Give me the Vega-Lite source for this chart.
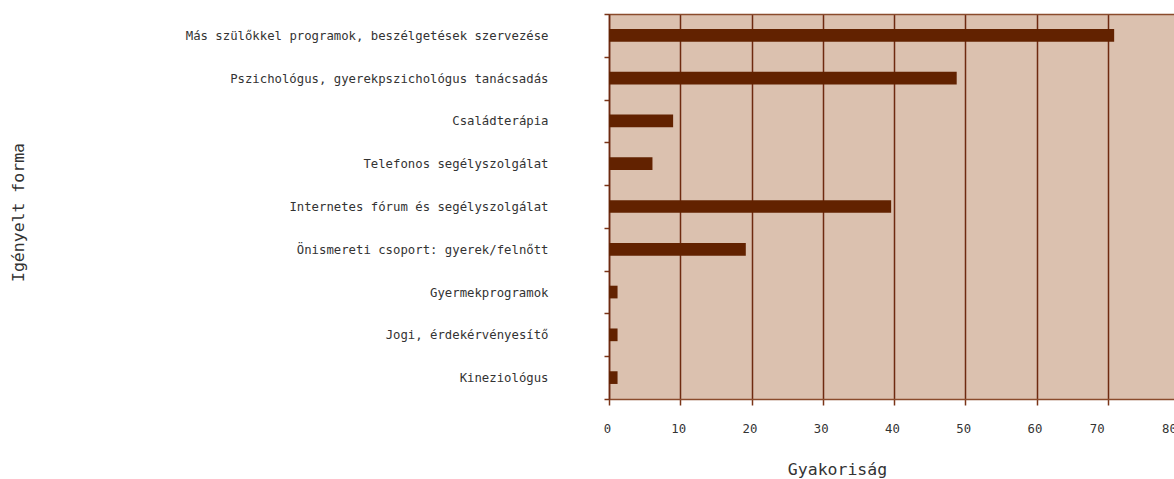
{
  "$schema": "https://vega.github.io/schema/vega-lite/v6.json",
  "autosize": "none",
  "width": 565,
  "height": 385,
  "padding": {"left": 609, "top": 14, "right": 0, "bottom": 80},
  "background": "white",
  "view": {"fill": "#dbc1af", "stroke": null},
  "data": {
    "values": [
      {"forma": "Más szülőkkel programok, beszélgetések szervezése", "gyakorisag": 70.9},
      {"forma": "Pszichológus, gyerekpszichológus tanácsadás", "gyakorisag": 48.8},
      {"forma": "Családterápia", "gyakorisag": 9.0},
      {"forma": "Telefonos segélyszolgálat", "gyakorisag": 6.1},
      {"forma": "Internetes fórum és segélyszolgálat", "gyakorisag": 39.6},
      {"forma": "Önismereti csoport: gyerek/felnőtt", "gyakorisag": 19.2},
      {"forma": "Gyermekprogramok", "gyakorisag": 1.2},
      {"forma": "Jogi, érdekérvényesítő", "gyakorisag": 1.2},
      {"forma": "Kineziológus", "gyakorisag": 1.2}
    ]
  },
  "encoding": {
    "y": {
      "field": "forma",
      "type": "nominal",
      "sort": null,
      "scale": {"paddingInner": 0, "paddingOuter": 0},
      "axis": {
        "title": "Igényelt forma",
        "tickBand": "extent",
        "tickSize": 5,
        "tickColor": "#7a3518",
        "tickWidth": 1.5,
        "domainColor": "#6e2a10",
        "domainWidth": 1.5,
        "labelPadding": 56,
        "labelLimit": 0,
        "labelFont": "DejaVu Sans Mono",
        "labelFontSize": 12.3,
        "labelColor": "#333333",
        "titleFont": "DejaVu Sans Mono",
        "titleFontSize": 16.5,
        "titleFontWeight": "normal",
        "titleColor": "#333333",
        "titleBaseline": "middle",
        "titleX": -591,
        "titleY": 198,
        "titleAngle": 270
      }
    }
  },
  "layer": [
    {
      "mark": {"type": "bar", "color": "#622200", "size": 12.7},
      "encoding": {
        "x": {
          "field": "gyakorisag",
          "type": "quantitative",
          "scale": {"domain": [0, 80], "range": [0, 570], "nice": false},
          "axis": {
            "title": "Gyakoriság",
            "values": [0, 10, 20, 30, 40, 50, 60, 70, 80],
            "grid": true,
            "gridColor": "#6e2a10",
            "gridWidth": 1.5,
            "tickSize": 6,
            "tickColor": "#7a3518",
            "tickWidth": 1.5,
            "domainColor": "#8a4b2c",
            "domainWidth": 1.5,
            "labelPadding": 17,
            "labelOffset": {"condition": [{"test": "datum.value == 70", "value": -11}, {"test": "datum.value == 80", "value": -10}], "value": -2},
            "labelFont": "DejaVu Sans Mono",
            "labelFontSize": 12.3,
            "labelColor": "#333333",
            "labelFlush": false,
            "labelOverlap": false,
            "titleFont": "DejaVu Sans Mono",
            "titleFontSize": 16.5,
            "titleFontWeight": "normal",
            "titleColor": "#333333",
            "titleBaseline": "alphabetic",
            "titleX": 228,
            "titleY": 75
          }
        }
      }
    },
    {
      "mark": {"type": "bar", "opacity": 0},
      "encoding": {
        "x": {
          "field": "gyakorisag",
          "type": "quantitative",
          "axis": {
            "orient": "top",
            "title": null,
            "labels": false,
            "ticks": false,
            "grid": false,
            "domain": true,
            "domainColor": "#8a4b2c",
            "domainWidth": 1.5
          }
        }
      }
    }
  ],
  "resolve": {"axis": {"x": "independent"}}
}
